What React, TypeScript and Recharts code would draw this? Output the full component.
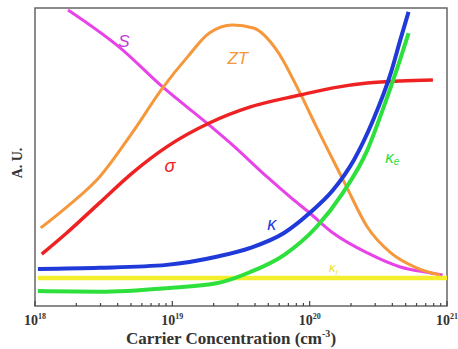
import React from "react";
import { LineChart, Line, XAxis, YAxis, ReferenceArea, ReferenceDot } from "recharts";

// carrier concentration (cm^-3) / arbitrary units
const seebeckN = [1.74e18, 4.17e18, 8.5e18, 1.86e19, 2.75e19, 4.9e19, 7.2e19, 1.0e20, 1.48e20, 2.63e20, 4.57e20, 7.6e20, 9.3e20];
const seebeckV = [99.3, 86.6, 73.5, 60.7, 54.0, 43.3, 36.6, 31.2, 24.5, 17.8, 13.1, 11.1, 10.4];

const ztN = [1.1e18, 1.7e18, 2.95e18, 5.1e18, 8.5e18, 1.29e19, 1.86e19, 2.75e19, 3.9e19, 5.75e19, 8.5e19, 1.12e20, 1.48e20, 1.86e20, 2.63e20, 3.9e20, 6.0e20, 8.9e20];
const ztV = [26.2, 33.2, 43.3, 58.1, 73.2, 83.6, 91.6, 94.3, 93.3, 85.9, 71.5, 60.1, 49.0, 39.9, 26.5, 17.8, 12.8, 10.4];

const sigmaN = [1.12e18, 1.7e18, 2.95e18, 5.1e18, 9.1e18, 1.86e19, 3.7e19, 8.5e19, 1.48e20, 2.63e20, 4.57e20, 7.9e20];
const sigmaV = [17.4, 24.5, 34.6, 44.6, 53.4, 61.4, 66.8, 70.8, 73.2, 74.8, 75.5, 75.8];

const kappaN = [1.05e18, 2.95e18, 9.1e18, 2.14e19, 3.7e19, 6.5e19, 1.0e20, 1.48e20, 2.1e20, 2.9e20, 3.9e20, 4.57e20, 5.25e20];
const kappaV = [12.4, 12.8, 13.8, 16.6, 19.5, 24.5, 31.2, 38.9, 49.0, 62.4, 78.2, 89.3, 98.7];

const kappaEN = [1.05e18, 2.95e18, 9.1e18, 2.14e19, 3.7e19, 6.5e19, 1.12e20, 1.74e20, 2.63e20, 3.4e20, 4.37e20, 5.25e20];
const kappaEV = [5.0, 4.8, 6.0, 7.7, 11.4, 17.1, 26.5, 37.9, 52.3, 65.8, 80.2, 91.6];

const kappaLN = [1.05e18, 1e21];
const kappaLV = [9.4, 9.4];

const decades = [18, 19, 20];
const multipliers = [1, 2, 3, 4, 5, 6, 7, 8, 9];
const ticks = [...decades.flatMap((d) => multipliers.map((m) => m * 10 ** d)), 1e21];

const toPoints = (n: number[], v: number[]) => n.map((x, i) => ({ n: x, v: v[i] }));

const series = [
  { key: "S", data: toPoints(seebeckN, seebeckV), color: "#e843e8", width: 3 },
  { key: "ZT", data: toPoints(ztN, ztV), color: "#f5973a", width: 3 },
  { key: "sigma", data: toPoints(sigmaN, sigmaV), color: "#ee2222", width: 3.5 },
  { key: "kl", data: toPoints(kappaLN, kappaLV), color: "#f4ee2c", width: 4.5 },
  { key: "ke", data: toPoints(kappaEN, kappaEV), color: "#2ee03c", width: 4 },
  { key: "k", data: toPoints(kappaN, kappaV), color: "#1f3ad8", width: 4 },
];

const labels = [
  { n: 4.45e18, v: 88.6, text: "S", sub: "", color: "#c13cd6", size: 17 },
  { n: 3.0e19, v: 83.2, text: "ZT", sub: "", color: "#f5973a", size: 17 },
  { n: 9.6e18, v: 47, text: "σ", sub: "", color: "#ee2222", size: 18 },
  { n: 5.3e19, v: 27.5, text: "κ", sub: "", color: "#1f3ad8", size: 18 },
  { n: 4.0e20, v: 50, text: "κ", sub: "e", color: "#2ee03c", size: 17 },
  { n: 1.48e20, v: 12.8, text: "κ", sub: "l", color: "#e8e030", size: 13 },
];

function LogTick(props: any) {
  const { x, y, payload } = props;
  const val = payload.value as number;
  const e = Math.round(Math.log10(val));
  const major = Math.abs(val - 10 ** e) / val < 1e-6;
  return (
    <g>
      <line x1={x} x2={x} y1={y} y2={y - (major ? 5 : 3)} stroke="#444" strokeWidth={1.2} />
      {major && (
        <text x={x} y={y + 19} textAnchor="middle" fontFamily="Liberation Serif" fontWeight="bold" fontSize={14} fill="#333">
          10
          <tspan dy={-6} fontSize={8}>{e}</tspan>
        </text>
      )}
    </g>
  );
}

export default function App() {
  return (
    <div style={{ position: "absolute", left: 0, top: 0, width: 458, height: 349, background: "#fff" }}>
      <LineChart width={458} height={349} margin={{ top: 8, right: 11, left: 35, bottom: 0 }}>
        <XAxis
          dataKey="n"
          type="number"
          scale="log"
          domain={[1e18, 1e21]}
          ticks={ticks}
          interval={0}
          tick={<LogTick />}
          tickSize={0}
          tickMargin={0}
          tickLine={false}
          axisLine={false}
          height={43}
          allowDataOverflow
        />
        <YAxis type="number" domain={[0, 100]} hide allowDataOverflow />
        <ReferenceArea x1={1e18} x2={1e21} y1={0} y2={100} fill="none" stroke="#666" strokeWidth={1.5} />
        {series.map((s) => (
          <Line
            key={s.key}
            data={s.data}
            dataKey="v"
            type="monotone"
            stroke={s.color}
            strokeWidth={s.width}
            dot={false}
            isAnimationActive={false}
          />
        ))}
        {labels.map((l, i) => (
          <ReferenceDot
            key={i}
            x={l.n}
            y={l.v}
            r={0}
            shape={(p: any) => (
              <text
                x={p.cx}
                y={p.cy}
                textAnchor="middle"
                dominantBaseline="central"
                fontFamily="Liberation Sans"
                fontStyle="italic"
                fontSize={l.size}
                fill={l.color}
              >
                {l.text}
                {l.sub && (
                  <tspan dy={4} fontSize={l.size * 0.6}>
                    {l.sub}
                  </tspan>
                )}
              </text>
            )}
          />
        ))}
      </LineChart>
      <svg style={{ position: "absolute", left: 0, top: 0 }} width={458} height={349}>
        <text
          x={231}
          y={344}
          textAnchor="middle"
          fontFamily="Liberation Serif"
          fontWeight="bold"
          fontSize={17}
          fill="#333"
        >
          Carrier Concentration (cm
          <tspan dy={-7} fontSize={10}>-3</tspan>
          <tspan dy={7}>)</tspan>
        </text>
        <text
          x={0}
          y={0}
          transform="translate(22 163) rotate(-90)"
          textAnchor="middle"
          fontFamily="Liberation Serif"
          fontWeight="bold"
          fontSize={14}
          fill="#333"
        >
          A. U.
        </text>
      </svg>
    </div>
  );
}
